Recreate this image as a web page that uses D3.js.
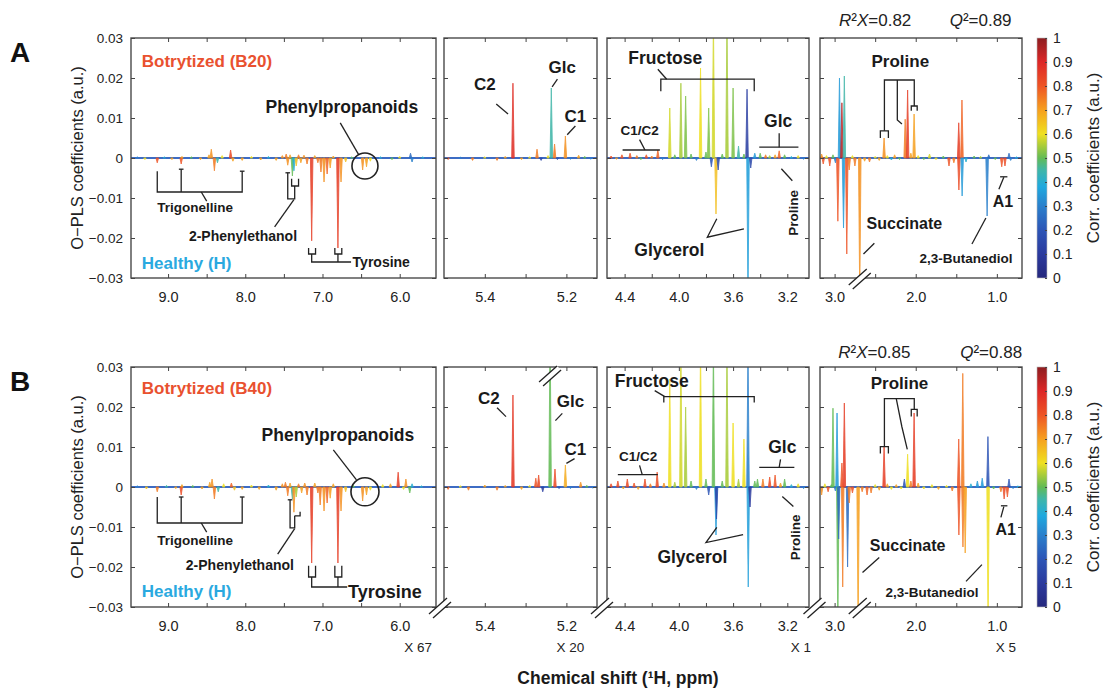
<!DOCTYPE html>
<html>
<head>
<meta charset="utf-8">
<script src="https://cdn.jsdelivr.net/npm/d3@7"></script>
<style>
body { margin: 0; background: #fff; }
svg { font-family: "Liberation Sans", Arial, Helvetica, sans-serif; }
.note { font-weight: bold; fill: #1a1a1a; }
.lead { fill: none; stroke: #222; stroke-width: 1.3; }
.tick line { stroke: #444; }
.tick text { font-size: 14px; fill: #222; }
</style>
</head>
<body>
<div id="chart"></div>
<script>
//
// Data (ppm, O-PLS coefficient, correlation)
//
var panelDomains = [[9.48, 5.53], [5.5, 5.125], [4.53, 3.04], [3.18, 0.69]];
var xTicks = [[9, 8, 7, 6], [5.4, 5.2], [4.4, 4.0, 3.6, 3.2], [3, 2, 1]];
var xTickLabels = [["9.0", "8.0", "7.0", "6.0"], ["5.4", "5.2"], ["4.4", "4.0", "3.6", "3.2"], ["3.0", "2.0", "1.0"]];
var xMinorTicks = [[9.0, 8.5, 8.0, 7.5, 7.0, 6.5, 6.0], [5.4, 5.3, 5.2], [4.4, 4.2, 4.0, 3.8, 3.6, 3.4, 3.2], [3.0, 2.5, 2.0, 1.5, 1.0]];
var yTicks = [0.03, 0.02, 0.01, 0, -0.01, -0.02, -0.03];
var yTickLabels = ["0.03", "0.02", "0.01", "0", "\u22120.01", "\u22120.02", "\u22120.03"];
var corrTicks = [0, 0.1, 0.2, 0.3, 0.4, 0.5, 0.6, 0.7, 0.8, 0.9, 1];
var corrTickLabels = ["0", "0.1", "0.2", "0.3", "0.4", "0.5", "0.6", "0.7", "0.8", "0.9", "1"];
var multipliers = ["X 67", "X 20", "X 1", "X 5"];
var rowLetters = ["A", "B"];
var groupLabels = ["Botrytized (B20)", "Botrytized (B40)"];
var r2x = ["0.82", "0.85"];
var q2 = ["0.89", "0.88"];

var aromaticA = [
  [9.40, 0.0003, 0.3], [9.30, -0.0004, 0.6], [9.14, -0.0012, 0.8], [9.05, 0.0003, 0.4],
  [8.95, -0.0004, 0.7], [8.83, -0.0015, 0.8], [8.82, 0.0004, 0.7], [8.70, 0.0003, 0.5],
  [8.58, -0.0004, 0.7], [8.47, 0.0008, 0.7], [8.44, 0.0022, 0.72], [8.40, -0.0032, 0.75],
  [8.36, -0.0012, 0.45], [8.30, 0.0006, 0.6], [8.19, 0.002, 0.82], [8.16, -0.0008, 0.7],
  [8.04, -0.0006, 0.7], [7.92, 0.0004, 0.6], [7.80, -0.0005, 0.7], [7.70, 0.0004, 0.4],
  [7.60, -0.0006, 0.7], [7.52, 0.0006, 0.72], [7.47, 0.001, 0.75], [7.45, -0.0018, 0.72],
  [7.42, 0.0008, 0.7], [7.39, -0.0045, 0.5], [7.37, -0.0032, 0.4], [7.34, -0.002, 0.65],
  [7.31, 0.0008, 0.75], [7.28, -0.0012, 0.7], [7.24, 0.0007, 0.72], [7.20, -0.0015, 0.75],
  [7.14, -0.0207, 0.85], [7.10, 0.0006, 0.7], [7.06, -0.0012, 0.75], [7.02, -0.0035, 0.75],
  [6.98, -0.006, 0.72], [6.94, -0.004, 0.78], [6.90, -0.0025, 0.7], [6.86, 0.0005, 0.7],
  [6.80, -0.0225, 0.85], [6.76, -0.006, 0.72], [6.70, -0.001, 0.65], [6.62, 0.0003, 0.5],
  [6.48, -0.003, 0.72], [6.43, -0.0022, 0.7], [6.38, -0.0008, 0.6], [6.25, 0.0003, 0.4],
  [6.10, -0.0004, 0.5], [6.00, 0.0004, 0.6], [5.86, 0.0012, 0.25], [5.84, -0.001, 0.3],
  [5.70, 0.0003, 0.4]
];
var anomericA = [
  [5.49, -0.0004, 0.8], [5.46, 0.0002, 0.3], [5.43, -0.0006, 0.75], [5.40, 0.0003, 0.6],
  [5.37, -0.0006, 0.75], [5.35, 0.0004, 0.7], [5.331, 0.0187, 0.88], [5.31, -0.0004, 0.7],
  [5.29, 0.0003, 0.6], [5.272, 0.0022, 0.75], [5.262, -0.0006, 0.15], [5.245, 0.0006, 0.6],
  [5.237, 0.0175, 0.45], [5.229, 0.0035, 0.75], [5.222, -0.0004, 0.2], [5.2025, 0.0055, 0.72],
  [5.19, -0.0003, 0.3], [5.17, 0.0007, 0.7], [5.155, 0.0004, 0.5], [5.14, -0.0003, 0.3]
];
var sugarA = [
  [4.50, 0.0005, 0.8], [4.46, -0.0003, 0.7], [4.42, 0.0008, 0.8], [4.36, 0.0012, 0.8],
  [4.31, 0.0006, 0.75], [4.28, -0.0004, 0.5], [4.24, 0.0008, 0.8], [4.20, 0.0005, 0.75],
  [4.155, 0.002, 0.78], [4.12, -0.0004, 0.3], [4.067, 0.0125, 0.58], [4.03, 0.0008, 0.5],
  [3.985, 0.0187, 0.55], [3.95, 0.0155, 0.52], [3.91, 0.001, 0.5], [3.87, -0.0006, 0.3],
  [3.84, 0.0225, 0.6], [3.80, 0.0015, 0.5], [3.78, 0.0125, 0.52], [3.76, -0.0022, 0.2],
  [3.745, 0.035, 0.58], [3.726, -0.014, 0.65], [3.71, -0.003, 0.15], [3.68, 0.001, 0.5],
  [3.645, 0.035, 0.55], [3.60, 0.0175, 0.52], [3.56, 0.003, 0.45], [3.52, 0.001, 0.5],
  [3.497, 0.0172, 0.12], [3.49, -0.035, 0.36], [3.47, -0.0025, 0.15], [3.44, 0.0012, 0.35],
  [3.40, 0.0012, 0.5], [3.36, 0.0008, 0.75], [3.33, 0.0006, 0.55], [3.29, 0.0008, 0.7],
  [3.26, 0.0018, 0.78], [3.22, 0.0008, 0.5], [3.17, 0.0004, 0.4], [3.12, 0.0006, 0.6],
  [3.08, -0.0003, 0.3]
];
var aliphaticA = [
  [3.16, 0.001, 0.72], [3.14, -0.0015, 0.8], [3.10, 0.0006, 0.6], [3.06, -0.002, 0.8],
  [3.02, 0.0008, 0.5], [2.99, -0.0012, 0.3], [2.96, -0.0158, 0.8], [2.94, 0.02, 0.35],
  [2.91, 0.0138, 0.95], [2.89, -0.0175, 0.35], [2.88, 0.0205, 0.45], [2.85, -0.024, 0.8],
  [2.82, -0.003, 0.75], [2.78, 0.0006, 0.6], [2.75, -0.002, 0.75], [2.69, -0.035, 0.72],
  [2.63, -0.0008, 0.7], [2.57, -0.001, 0.75], [2.50, 0.0004, 0.6], [2.45, -0.0006, 0.7],
  [2.39, 0.005, 0.72], [2.35, 0.0006, 0.6], [2.30, -0.0005, 0.4], [2.26, 0.0008, 0.7],
  [2.20, -0.0004, 0.5], [2.13, 0.0097, 0.75], [2.10, 0.017, 0.85], [2.06, 0.0012, 0.7],
  [2.02, 0.011, 0.7], [1.97, 0.0006, 0.6], [1.90, -0.0004, 0.5], [1.83, 0.001, 0.58],
  [1.75, -0.0004, 0.6], [1.66, 0.0005, 0.5], [1.59, -0.002, 0.8], [1.53, -0.0012, 0.75],
  [1.47, 0.0088, 0.85], [1.468, -0.008, 0.82], [1.43, 0.0145, 0.78], [1.428, -0.0095, 0.35],
  [1.38, -0.001, 0.4], [1.28, 0.0005, 0.5], [1.20, 0.0004, 0.55], [1.12, -0.0145, 0.3],
  [1.10, 0.0008, 0.25], [1.02, -0.0004, 0.5], [0.94, -0.0022, 0.8], [0.90, -0.002, 0.82],
  [0.85, 0.0012, 0.25], [0.83, -0.0006, 0.3], [0.76, 0.0003, 0.4]
];

var aromaticB = [
  [9.40, 0.0003, 0.3], [9.28, -0.0005, 0.65], [9.14, -0.0012, 0.75], [9.02, 0.0004, 0.45],
  [8.90, -0.0004, 0.7], [8.83, -0.002, 0.82], [8.82, 0.0006, 0.7], [8.68, 0.0004, 0.5],
  [8.56, -0.0005, 0.7], [8.46, 0.0012, 0.7], [8.43, 0.002, 0.72], [8.40, -0.003, 0.75],
  [8.35, -0.0012, 0.45], [8.28, 0.0008, 0.6], [8.18, 0.001, 0.78], [8.14, -0.0008, 0.65],
  [8.04, -0.0006, 0.7], [7.92, 0.0005, 0.6], [7.82, -0.0006, 0.7], [7.70, 0.0005, 0.4],
  [7.60, -0.0008, 0.7], [7.52, 0.0008, 0.72], [7.48, 0.0012, 0.75], [7.45, -0.0022, 0.75],
  [7.42, 0.001, 0.7], [7.39, -0.003, 0.45], [7.37, -0.0063, 0.72], [7.34, -0.0025, 0.55],
  [7.31, 0.0008, 0.75], [7.27, -0.0015, 0.7], [7.23, 0.001, 0.72], [7.20, -0.002, 0.75],
  [7.14, -0.019, 0.85], [7.10, 0.001, 0.7], [7.06, -0.0015, 0.75], [7.03, -0.0045, 0.75],
  [6.98, -0.006, 0.72], [6.94, -0.004, 0.78], [6.90, -0.0028, 0.7], [6.86, 0.0008, 0.7],
  [6.80, -0.019, 0.85], [6.76, -0.006, 0.72], [6.70, -0.0012, 0.65], [6.60, 0.0004, 0.5],
  [6.48, -0.0035, 0.72], [6.43, -0.002, 0.7], [6.38, -0.0008, 0.6], [6.22, 0.0006, 0.6],
  [6.12, 0.0008, 0.7], [6.02, 0.0037, 0.85], [5.95, -0.0006, 0.6], [5.92, 0.002, 0.72],
  [5.87, -0.0015, 0.5], [5.84, 0.0008, 0.4], [5.72, 0.0003, 0.4]
];
var anomericB = [
  [5.49, -0.0006, 0.78], [5.46, 0.0003, 0.6], [5.44, -0.0008, 0.75], [5.40, 0.0005, 0.7],
  [5.37, -0.0008, 0.75], [5.35, 0.0004, 0.7], [5.331, 0.023, 0.86], [5.31, -0.0006, 0.7],
  [5.29, 0.0004, 0.6], [5.275, 0.0022, 0.8], [5.268, 0.003, 0.82], [5.258, -0.0012, 0.12],
  [5.24, 0.04, 0.5], [5.228, 0.0045, 0.82], [5.218, -0.0004, 0.2], [5.2025, 0.0055, 0.68],
  [5.19, -0.0004, 0.3], [5.165, 0.0012, 0.72], [5.15, 0.0004, 0.5], [5.135, -0.0003, 0.3]
];
var sugarB = [
  [4.50, 0.0008, 0.82], [4.45, 0.0015, 0.82], [4.41, -0.0005, 0.7], [4.38, 0.002, 0.82],
  [4.33, 0.001, 0.8], [4.30, -0.0006, 0.7], [4.25, 0.002, 0.82], [4.21, 0.0008, 0.75],
  [4.16, 0.0037, 0.82], [4.11, 0.001, 0.72], [4.067, 0.027, 0.6], [4.03, 0.0012, 0.55],
  [3.985, 0.035, 0.58], [3.95, 0.02, 0.55], [3.91, 0.0015, 0.5], [3.87, -0.0006, 0.3],
  [3.84, 0.035, 0.6], [3.80, 0.002, 0.5], [3.78, -0.002, 0.2], [3.745, 0.035, 0.5],
  [3.726, -0.012, 0.35], [3.722, -0.008, 0.15], [3.68, 0.0015, 0.5], [3.645, 0.035, 0.55],
  [3.60, 0.016, 0.6], [3.56, 0.002, 0.55], [3.52, 0.012, 0.6], [3.49, 0.035, 0.3],
  [3.488, -0.025, 0.36], [3.475, -0.005, 0.1], [3.44, 0.0015, 0.5], [3.42, 0.002, 0.5],
  [3.38, 0.002, 0.75], [3.33, 0.0025, 0.82], [3.29, 0.003, 0.8], [3.25, 0.001, 0.7],
  [3.22, 0.002, 0.5], [3.17, 0.0006, 0.4], [3.12, 0.0008, 0.6], [3.08, -0.0004, 0.3]
];
var aliphaticB = [
  [3.16, -0.002, 0.72], [3.12, 0.0008, 0.6], [3.08, -0.0012, 0.8], [3.04, 0.0006, 0.5],
  [3.02, 0.0197, 0.5], [2.99, -0.001, 0.3], [2.97, 0.0185, 0.35], [2.96, -0.035, 0.5],
  [2.95, -0.013, 0.25], [2.91, 0.006, 0.8], [2.90, -0.025, 0.75], [2.88, 0.021, 0.85],
  [2.84, -0.02, 0.25], [2.82, -0.004, 0.75], [2.78, -0.0015, 0.8], [2.71, -0.035, 0.7],
  [2.66, -0.0012, 0.75], [2.60, -0.002, 0.78], [2.55, -0.0015, 0.75], [2.50, 0.0006, 0.6],
  [2.45, -0.0008, 0.7], [2.39, 0.0101, 0.85], [2.35, 0.0008, 0.7], [2.30, -0.0006, 0.6],
  [2.24, 0.0006, 0.7], [2.18, -0.0005, 0.6], [2.14, 0.002, 0.2], [2.10, 0.0082, 0.6],
  [2.06, 0.0015, 0.75], [2.02, 0.0185, 0.85], [1.97, 0.001, 0.7], [1.90, -0.0005, 0.6],
  [1.80, 0.0006, 0.6], [1.72, -0.0006, 0.7], [1.62, 0.0004, 0.6], [1.55, -0.001, 0.75],
  [1.47, 0.012, 0.8], [1.468, -0.012, 0.8], [1.42, 0.0284, 0.75], [1.418, -0.015, 0.75],
  [1.39, -0.0165, 0.7], [1.32, 0.0008, 0.4], [1.24, 0.0015, 0.35], [1.18, 0.0022, 0.35],
  [1.11, 0.0126, 0.2], [1.108, -0.035, 0.6], [1.04, -0.0005, 0.5], [0.95, -0.0012, 0.75],
  [0.91, -0.003, 0.82], [0.87, -0.0025, 0.8], [0.85, 0.002, 0.2], [0.80, -0.0004, 0.3],
  [0.74, 0.0003, 0.4]
];

var peaksByRow = [
  [aromaticA, anomericA, sugarA, aliphaticA],
  [aromaticB, anomericB, sugarB, aliphaticB]
];

//
// Layout
//
var W = 1109, H = 694;
var panelRanges = [[131, 436], [444, 597], [607, 809], [820, 1022]];
var rowTop = [38, 367], rowH = 240;
var peakHalf = 1.25;

// correlation colour map (jet-like, as on the colour bar)
var cmapStops = [0, 0.1, 0.2, 0.3, 0.38, 0.45, 0.5, 0.55, 0.6, 0.7, 0.8, 0.9, 1];
var cmapColors = ["#25287d", "#2b3a9e", "#2d55b6", "#2a80cc", "#1fa9df", "#3fb6a8", "#62bb55",
                  "#a8cc3a", "#efe020", "#f6a01f", "#ee5425", "#dd2727", "#8c1d20"];
var corrColor = d3.scaleLinear().domain(cmapStops).range(cmapColors).clamp(true);

//
// Annotations, in data units of each panel [ppm, coefficient]
//
var notes = [
  { // row A
    texts: [
      {p: 0, t: groupLabels[0], at: [9.34, 0.0228], size: 17, fill: "#e9512f", anchor: "start"},
      {p: 0, t: "Healthy (H)", at: [9.34, -0.0277], size: 17, fill: "#2aa9e0", anchor: "start"},
      {p: 0, t: "Phenylpropanoids", at: [6.75, 0.0112], size: 17.5},
      {p: 0, t: "Trigonelline", at: [8.65, -0.0135], size: 13.5},
      {p: 0, t: "2-Phenylethanol", at: [8.03, -0.0207], size: 14},
      {p: 0, t: "Tyrosine", at: [6.61, -0.0273], size: 14, anchor: "start"},
      {p: 1, t: "C2", at: [5.40, 0.017], size: 17},
      {p: 1, t: "Glc", at: [5.21, 0.0212], size: 17},
      {p: 1, t: "C1", at: [5.178, 0.009], size: 17},
      {p: 2, t: "Fructose", at: [4.10, 0.0235], size: 17.5},
      {p: 2, t: "C1/C2", at: [4.29, 0.0057], size: 13.5},
      {p: 2, t: "Glc", at: [3.267, 0.0077], size: 17.5},
      {p: 2, t: "Proline", at: [3.155, -0.0137], size: 13.5, rotate: true},
      {p: 2, t: "Glycerol", at: [4.07, -0.0245], size: 17.5},
      {p: 3, t: "Proline", at: [2.19, 0.0228], size: 17},
      {p: 3, t: "Succinate", at: [2.14, -0.0178], size: 16},
      {p: 3, t: "2,3-Butanediol", at: [1.38, -0.0262], size: 13.5},
      {p: 3, t: "A1", at: [0.926, -0.0123], size: 16}
    ],
    lines: [
      {p: 0, pts: [[9.14, -0.0033], [9.14, -0.0085], [8.04, -0.0085], [8.04, -0.0033]]},
      {p: 0, pts: [[8.83, -0.0028], [8.83, -0.0085]]},
      {p: 0, pts: [[8.86, -0.0028], [8.80, -0.0028]]},
      {p: 0, pts: [[8.07, -0.0033], [8.01, -0.0033]]},
      {p: 0, pts: [[8.57, -0.0085], [8.50, -0.0108]]},
      {p: 0, pts: [[7.48, -0.0037], [7.42, -0.0037]]},
      {p: 0, pts: [[7.45, -0.0037], [7.45, -0.0102], [7.36, -0.0102], [7.36, -0.007]]},
      {p: 0, pts: [[7.40, -0.0052], [7.40, -0.007], [7.31, -0.007], [7.31, -0.0052]]},
      {p: 0, pts: [[7.37, -0.0104], [7.62, -0.0172]]},
      {p: 0, pts: [[7.18, -0.0225], [7.18, -0.024], [7.09, -0.024], [7.09, -0.0225]]},
      {p: 0, pts: [[6.84, -0.0225], [6.84, -0.024], [6.75, -0.024], [6.75, -0.0225]]},
      {p: 0, pts: [[7.14, -0.024], [7.14, -0.026], [6.63, -0.026]]},
      {p: 0, pts: [[6.80, -0.024], [6.80, -0.026]]},
      {p: 0, pts: [[6.77, 0.0088], [6.53, 0.0008]]},
      {p: 1, pts: [[5.372, 0.0135], [5.343, 0.011]]},
      {p: 1, pts: [[5.222, 0.0197], [5.235, 0.0178]]},
      {p: 1, pts: [[5.178, 0.008], [5.198, 0.0058]]},
      {p: 2, pts: [[4.133, 0.0167], [4.133, 0.0197], [3.444, 0.0197], [3.444, 0.0167]]},
      {p: 2, pts: [[4.155, 0.0222], [4.09, 0.0197]]},
      {p: 2, pts: [[4.415, 0.002], [4.14, 0.002]]},
      {p: 2, pts: [[4.29, 0.0046], [4.25, 0.002]]},
      {p: 2, pts: [[3.407, 0.0027], [3.118, 0.0027]]},
      {p: 2, pts: [[3.26, 0.0062], [3.26, 0.0027]]},
      {p: 2, pts: [[3.163, -0.0057], [3.244, -0.0027]]},
      {p: 2, pts: [[3.72, -0.0152], [3.79, -0.0198], [3.52, -0.0177]]},
      {p: 3, pts: [[2.386, 0.0068], [2.386, 0.0195], [2.018, 0.0195], [2.018, 0.013]]},
      {p: 3, pts: [[2.436, 0.005], [2.436, 0.0068], [2.337, 0.0068], [2.337, 0.005]]},
      {p: 3, pts: [[2.055, 0.0118], [2.055, 0.013], [1.982, 0.013], [1.982, 0.0118]]},
      {p: 3, pts: [[2.227, 0.0195], [2.227, 0.0095], [2.17, 0.0085]]},
      {p: 3, pts: [[2.51, -0.0213], [2.644, -0.024]]},
      {p: 3, pts: [[1.307, -0.0215], [1.135, -0.015]]},
      {p: 3, pts: [[0.975, -0.0078], [0.914, -0.0048]]},
      {p: 3, pts: [[0.96, -0.0047], [0.87, -0.0047]]}
    ],
    circles: [{p: 0, at: [6.45, -0.002], r: 13}],
    stats: [2.5, 1.2, 0.033]
  },
  { // row B
    texts: [
      {p: 0, t: groupLabels[1], at: [9.34, 0.0232], size: 17, fill: "#e9512f", anchor: "start"},
      {p: 0, t: "Healthy (H)", at: [9.34, -0.0275], size: 17, fill: "#2aa9e0", anchor: "start"},
      {p: 0, t: "Phenylpropanoids", at: [6.80, 0.0115], size: 17.5},
      {p: 0, t: "Trigonelline", at: [8.65, -0.0145], size: 13.5},
      {p: 0, t: "2-Phenylethanol", at: [8.07, -0.0207], size: 14},
      {p: 0, t: "Tyrosine", at: [6.67, -0.0277], size: 18, anchor: "start"},
      {p: 1, t: "C2", at: [5.39, 0.0207], size: 17},
      {p: 1, t: "Glc", at: [5.19, 0.0199], size: 17},
      {p: 1, t: "C1", at: [5.178, 0.0081], size: 17},
      {p: 2, t: "Fructose", at: [4.2, 0.0249], size: 17.5},
      {p: 2, t: "C1/C2", at: [4.30, 0.0064], size: 13.5},
      {p: 2, t: "Glc", at: [3.237, 0.0084], size: 17.5},
      {p: 2, t: "Proline", at: [3.14, -0.0126], size: 13.5, rotate: true},
      {p: 2, t: "Glycerol", at: [3.90, -0.0189], size: 17.5},
      {p: 3, t: "Proline", at: [2.2, 0.0246], size: 17},
      {p: 3, t: "Succinate", at: [2.1, -0.0161], size: 16},
      {p: 3, t: "2,3-Butanediol", at: [1.8, -0.0274], size: 13.5},
      {p: 3, t: "A1", at: [0.89, -0.0119], size: 16}
    ],
    lines: [
      {p: 0, pts: [[9.14, -0.0025], [9.14, -0.009], [8.04, -0.009], [8.04, -0.0025]]},
      {p: 0, pts: [[8.83, -0.0025], [8.83, -0.009]]},
      {p: 0, pts: [[8.86, -0.0025], [8.80, -0.0025]]},
      {p: 0, pts: [[8.07, -0.0025], [8.01, -0.0025]]},
      {p: 0, pts: [[8.57, -0.009], [8.50, -0.0113]]},
      {p: 0, pts: [[7.45, -0.0032], [7.39, -0.0032]]},
      {p: 0, pts: [[7.42, -0.0032], [7.42, -0.0102], [7.36, -0.0102], [7.36, -0.0072]]},
      {p: 0, pts: [[7.36, -0.0072], [7.29, -0.0072], [7.29, -0.0062]]},
      {p: 0, pts: [[7.36, -0.0104], [7.58, -0.0168]]},
      {p: 0, pts: [[7.18, -0.0197], [7.18, -0.0225], [7.09, -0.0225], [7.09, -0.0197]]},
      {p: 0, pts: [[6.84, -0.0197], [6.84, -0.0225], [6.75, -0.0225], [6.75, -0.0197]]},
      {p: 0, pts: [[7.14, -0.0225], [7.14, -0.025], [6.68, -0.025]]},
      {p: 0, pts: [[6.80, -0.0225], [6.80, -0.025]]},
      {p: 0, pts: [[6.86, 0.0093], [6.56, 0.0018]]},
      {p: 1, pts: [[5.37, 0.0198], [5.348, 0.0176]]},
      {p: 1, pts: [[5.21, 0.0184], [5.227, 0.0166]]},
      {p: 1, pts: [[5.18, 0.0071], [5.2, 0.0059]]},
      {p: 2, pts: [[4.111, 0.0211], [4.111, 0.0226], [3.444, 0.0226], [3.444, 0.0211]]},
      {p: 2, pts: [[4.178, 0.0241], [4.104, 0.0226]]},
      {p: 2, pts: [[4.45, 0.0031], [4.155, 0.0031]]},
      {p: 2, pts: [[4.29, 0.0054], [4.27, 0.0031]]},
      {p: 2, pts: [[3.407, 0.0049], [3.148, 0.0049]]},
      {p: 2, pts: [[3.25, 0.0069], [3.26, 0.0049]]},
      {p: 2, pts: [[3.155, -0.0049], [3.237, -0.0024]]},
      {p: 2, pts: [[3.72, -0.0101], [3.80, -0.0139], [3.526, -0.0119]]},
      {p: 3, pts: [[2.386, 0.0101], [2.386, 0.0221], [2.018, 0.0221], [2.018, 0.0194]]},
      {p: 3, pts: [[2.436, 0.0084], [2.436, 0.0101], [2.337, 0.0101], [2.337, 0.0084]]},
      {p: 3, pts: [[2.055, 0.0176], [2.055, 0.0194], [1.982, 0.0194], [1.982, 0.0176]]},
      {p: 3, pts: [[2.24, 0.0221], [2.17, 0.015], [2.104, 0.0094]]},
      {p: 3, pts: [[2.45, -0.0176], [2.656, -0.0214]]},
      {p: 3, pts: [[1.38, -0.0236], [1.184, -0.0194]]},
      {p: 3, pts: [[0.95, -0.0076], [0.914, -0.0049]]},
      {p: 3, pts: [[0.95, -0.0047], [0.87, -0.0047]]}
    ],
    circles: [{p: 0, at: [6.45, -0.0012], r: 14}],
    stats: [2.51, 1.07, 0.0322]
  }
];

//
// Drawing
//
var svg = d3.select("#chart").append("svg")
    .attr("width", W)
    .attr("height", H);

var defs = svg.append("defs");

// break mark "//"
function breakMark(g, cx, cy) {
  var b = g.append("g").attr("transform", "translate(" + cx + "," + cy + ")");
  b.append("path")
    .attr("d", "M-11,7 L7,-9 L11,-5 L-7,11 Z")
    .attr("fill", "#fff");
  b.append("line").attr("x1", -11).attr("y1", 7).attr("x2", 7).attr("y2", -9)
    .attr("stroke", "#222").attr("stroke-width", 1.3);
  b.append("line").attr("x1", -7).attr("y1", 11).attr("x2", 11).attr("y2", -5)
    .attr("stroke", "#222").attr("stroke-width", 1.3);
}

rowLetters.forEach(function(letter, ri) {
  var top = rowTop[ri], bottom = top + rowH;
  var y = d3.scaleLinear().domain([-0.03, 0.03]).range([bottom, top]);
  var xs = panelDomains.map(function(dom, pi) {
    return d3.scaleLinear().domain(dom).range(panelRanges[pi]);
  });

  panelDomains.forEach(function(dom, pi) {
    var x = xs[pi];
    var x0 = panelRanges[pi][0], x1 = panelRanges[pi][1];
    var g = svg.append("g");

    var clipId = "clip" + ri + pi;
    defs.append("clipPath").attr("id", clipId).append("rect")
      .attr("x", x0).attr("y", top).attr("width", x1 - x0).attr("height", rowH);

    var plot = g.append("g").attr("clip-path", "url(#" + clipId + ")");

    // zero baseline
    plot.append("line")
      .attr("x1", x0).attr("x2", x1)
      .attr("y1", y(0)).attr("y2", y(0))
      .attr("stroke", "#3d6cc4")
      .attr("stroke-width", 1.8);

    // peaks
    plot.selectAll("path.peak")
      .data(peaksByRow[ri][pi])
      .enter().append("path")
      .attr("class", "peak")
      .attr("d", function(d) {
        var px = x(d[0]);
        return "M" + (px - peakHalf) + "," + y(0) + "L" + px + "," + y(d[1]) +
               "L" + (px + peakHalf) + "," + y(0) + "Z";
      })
      .attr("fill", function(d) { return corrColor(d[2]); })
      .attr("stroke", function(d) { return corrColor(d[2]); })
      .attr("stroke-width", 0.9)
      .attr("opacity", 0.88);

    // frame
    g.append("rect")
      .attr("x", x0).attr("y", top)
      .attr("width", x1 - x0).attr("height", rowH)
      .attr("fill", "none")
      .attr("stroke", "#4a4a4a")
      .attr("stroke-width", 1.4);

    // ticks
    var lbl = {};
    xTicks[pi].forEach(function(v, i) { lbl[v.toFixed(2)] = xTickLabels[pi][i]; });
    var xb = g.append("g")
      .attr("transform", "translate(0," + bottom + ")")
      .call(d3.axisBottom(x).tickValues(xMinorTicks[pi]).tickSizeInner(-4).tickSizeOuter(0)
        .tickPadding(14)
        .tickFormat(function(d) { return lbl[d.toFixed(2)] || ""; }));
    xb.select(".domain").remove();
    xb.selectAll("text").style("font-size", "14.5px");

    var xt = g.append("g")
      .attr("transform", "translate(0," + top + ")")
      .call(d3.axisTop(x).tickValues(xMinorTicks[pi]).tickSizeInner(-4).tickSizeOuter(0).tickFormat(""));
    xt.select(".domain").remove();

    var yl = g.append("g")
      .attr("transform", "translate(" + x0 + ",0)")
      .call(d3.axisLeft(y).tickValues(yTicks).tickSizeInner(-4).tickSizeOuter(0).tickPadding(8)
        .tickFormat(function(d, i) { return pi == 0 ? yTickLabels[i] : ""; }));
    yl.select(".domain").remove();
    yl.selectAll("text").style("font-size", "13.5px");

    var yr = g.append("g")
      .attr("transform", "translate(" + x1 + ",0)")
      .call(d3.axisRight(y).tickValues(yTicks).tickSizeInner(-4).tickSizeOuter(0).tickFormat(""));
    yr.select(".domain").remove();

    // multiplier labels under bottom row
    if (ri == 1) {
      var mAt = [5.76, 5.19, 3.1, 0.89];
      g.append("text")
        .attr("x", x(mAt[pi])).attr("y", bottom + 45)
        .attr("text-anchor", "middle")
        .style("font-size", "13.5px")
        .attr("fill", "#222")
        .text(multipliers[pi]);
    }
  });

  // annotations
  var ann = svg.append("g");
  var rowNotes = notes[ri];
  var lineGen = function(p) {
    return d3.line()
      .x(function(d) { return xs[p](d[0]); })
      .y(function(d) { return y(d[1]); });
  };
  rowNotes.lines.forEach(function(l) {
    ann.append("path").attr("class", "lead").attr("d", lineGen(l.p)(l.pts));
  });
  rowNotes.circles.forEach(function(c) {
    ann.append("circle")
      .attr("cx", xs[c.p](c.at[0])).attr("cy", y(c.at[1])).attr("r", c.r)
      .attr("fill", "none").attr("stroke", "#222").attr("stroke-width", 1.6);
  });
  rowNotes.texts.forEach(function(t) {
    var px = xs[t.p](t.at[0]), py = y(t.at[1]);
    var el = ann.append("text")
      .attr("class", "note")
      .attr("text-anchor", t.anchor || "middle")
      .style("font-size", t.size + "px")
      .text(t.t);
    if (t.fill) el.style("fill", t.fill);
    if (t.rotate) {
      el.attr("transform", "translate(" + px + "," + py + ") rotate(-90)").attr("dy", "0.35em");
    } else {
      el.attr("x", px).attr("y", py);
    }
  });

  // R2X / Q2
  var st = rowNotes.stats;
  var t1 = svg.append("text").attr("x", xs[3](st[0])).attr("y", y(st[2]))
    .attr("text-anchor", "middle").style("font-size", "17px").attr("fill", "#222");
  t1.append("tspan").style("font-style", "italic").text("R");
  t1.append("tspan").text("\u00b2");
  t1.append("tspan").style("font-style", "italic").text("X");
  t1.append("tspan").text("=" + r2x[ri]);
  var t2 = svg.append("text").attr("x", xs[3](st[1])).attr("y", y(st[2]))
    .attr("text-anchor", "middle").style("font-size", "17px").attr("fill", "#222");
  t2.append("tspan").style("font-style", "italic").text("Q");
  t2.append("tspan").text("\u00b2=" + q2[ri]);

  // break marks
  breakMark(svg, xs[3](2.69), bottom);
  if (ri == 1) {
    breakMark(svg, (panelRanges[0][1] + panelRanges[1][0]) / 2, bottom);
    breakMark(svg, (panelRanges[1][1] + panelRanges[2][0]) / 2, bottom);
    breakMark(svg, (panelRanges[2][1] + panelRanges[3][0]) / 2, bottom);
    breakMark(svg, xs[1](5.24), y(0.028));
  }

  // row letter
  svg.append("text")
    .attr("x", 10).attr("y", top + 24)
    .style("font-size", "28px").style("font-weight", "bold")
    .attr("fill", "#111")
    .text(letter);

  // y label
  svg.append("text")
    .attr("transform", "translate(83," + (top + rowH / 2) + ") rotate(-90)")
    .attr("text-anchor", "middle")
    .style("font-size", "16.5px")
    .attr("fill", "#222")
    .text("O\u2212PLS coefficients (a.u.)");

  // colour bar
  var gradId = "cgrad" + ri;
  var grad = defs.append("linearGradient").attr("id", gradId)
    .attr("x1", 0).attr("y1", 1).attr("x2", 0).attr("y2", 0);
  cmapStops.forEach(function(s, i) {
    grad.append("stop").attr("offset", s).attr("stop-color", cmapColors[i]);
  });
  var cb = svg.append("g");
  var cy = d3.scaleLinear().domain([0, 1]).range([bottom, top]);
  cb.append("rect")
    .attr("x", 1037).attr("y", top).attr("width", 10).attr("height", rowH)
    .attr("fill", "url(#" + gradId + ")")
    .attr("stroke", "#bbb").attr("stroke-width", 0.6);
  var cax = cb.append("g")
    .attr("transform", "translate(1047,0)")
    .call(d3.axisRight(cy).tickValues(corrTicks).tickSizeInner(-2).tickSizeOuter(0).tickPadding(6)
      .tickFormat(function(d, i) { return corrTickLabels[i]; }));
  cax.select(".domain").remove();
  cax.selectAll("text").style("font-size", "14px");
  cax.selectAll("line").attr("stroke", "#333");
  cb.append("text")
    .attr("transform", "translate(1099," + (top + rowH / 2) + ") rotate(-90)")
    .attr("text-anchor", "middle")
    .style("font-size", "17px")
    .attr("fill", "#222")
    .text("Corr. coefficients (a.u.)");
});

// x axis title
svg.append("text")
  .attr("x", 618).attr("y", 684)
  .attr("text-anchor", "middle")
  .style("font-size", "17.5px")
  .style("font-weight", "bold")
  .attr("fill", "#1a1a1a")
  .text("Chemical shift (\u00b9H, ppm)");
</script>
</body>
</html>
